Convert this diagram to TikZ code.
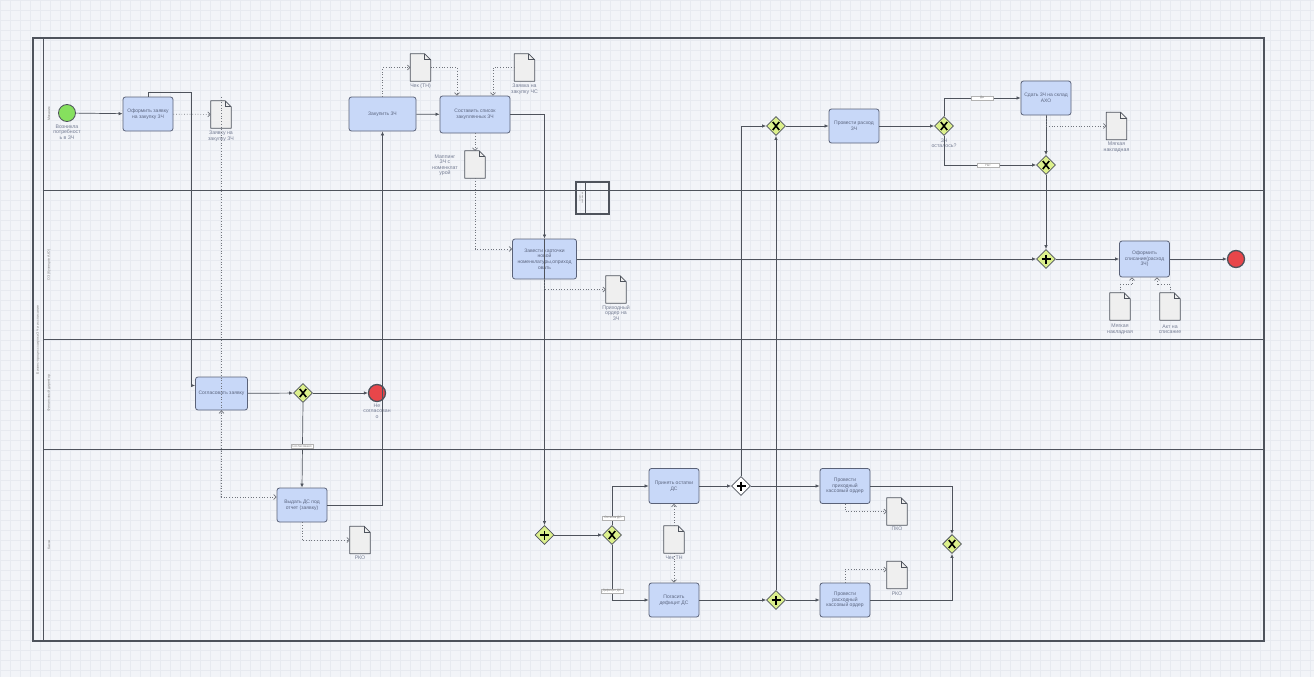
\documentclass[tikz,border=0pt]{standalone}
\usepackage{fontspec}
\setmainfont{Liberation Sans}
\usetikzlibrary{shapes.geometric,arrows.meta,calc}
\definecolor{bg}{HTML}{F2F4F8}
\definecolor{gridc}{HTML}{E7EAF0}
\definecolor{taskfill}{HTML}{C8D8F8}
\definecolor{taskline}{HTML}{5A6278}
\definecolor{gwfill}{HTML}{DCF08C}
\definecolor{linec}{HTML}{4E535C}
\definecolor{docfill}{HTML}{EFEFEF}
\definecolor{txt}{HTML}{5C6680}
\definecolor{startc}{HTML}{86E05E}
\definecolor{endc}{HTML}{E8464A}
\tikzset{
 task/.style={draw=taskline, fill=taskfill, rounded corners=2.5pt, line width=0.8pt, inner sep=1pt, align=center, text=txt, font=\fontsize{5}{5.6}\selectfont},
 gate/.style={diamond, aspect=1, draw=linec, fill=gwfill, line width=0.8pt, minimum width=19pt, minimum height=19pt, inner sep=0pt},
 gx/.style={gate, path picture={\draw[line width=1.6pt,black] ([shift={(-3.2pt,-4pt)}]path picture bounding box.center) -- ([shift={(3.2pt,4pt)}]path picture bounding box.center) ([shift={(-3.2pt,4pt)}]path picture bounding box.center) -- ([shift={(3.2pt,-4pt)}]path picture bounding box.center);}},
 gp/.style={gate, path picture={\draw[line width=1.8pt,black] ([shift={(-4.5pt,0pt)}]path picture bounding box.center) -- ([shift={(4.5pt,0pt)}]path picture bounding box.center) ([shift={(0pt,4.5pt)}]path picture bounding box.center) -- ([shift={(0pt,-4.5pt)}]path picture bounding box.center);}},
 gpw/.style={gp, fill=white},
 event/.style={circle, draw=linec, line width=0.8pt, minimum size=17pt, inner sep=0pt},
 startev/.style={event, fill=startc},
 endev/.style={event, fill=endc, line width=1.3pt},
 docbox/.style={minimum width=20pt, minimum height=27pt, inner sep=0pt},
 flow/.style={draw=linec, line width=0.7pt, -{Latex[length=4pt,width=3.5pt]}},
 assoc/.style={draw=linec!80, dotted, line width=0.7pt, -{Straight Barb[length=2.5pt,width=5pt]}},
 lbl/.style={text=txt!85, align=center, font=\fontsize{5.2}{5.5}\selectfont, inner sep=0.5pt},
 cond/.style={draw=gray!60, fill=white, font=\fontsize{3.2}{3.4}\selectfont, text=gray, inner sep=0.6pt, minimum width=22pt},
 lanetxt/.style={rotate=90, text=gray, font=\fontsize{3.5}{4}\selectfont},
 laneline/.style={draw=linec, line width=1pt},
}
\newcommand\mkdoc[2]{\node[docbox] (#1) at (#2) {};
\filldraw[draw=linec, fill=docfill, line width=0.8pt, line join=round] (#1.south west) -- (#1.north west) -- ([xshift=-6pt]#1.north east) -- ([yshift=-6pt]#1.north east) -- (#1.south east) -- cycle;
\draw[draw=linec, line width=0.8pt] ([xshift=-6pt]#1.north east) |- ([yshift=-6pt]#1.north east);}
\begin{document}
\begin{tikzpicture}[x=1pt,y=-1pt]
\useasboundingbox (0,0) rectangle (1314,677);
\fill[bg] (0,0) rectangle (1314,677);
\foreach \i in {0,10,...,1310} \draw[gridc, line width=0.3pt] (\i,0) -- (\i,677);
\foreach \j in {0,10,...,670} \draw[gridc, line width=0.3pt] (0,\j) -- (1314,\j);
% pool
\draw[laneline, line width=1.2pt] (33,38) rectangle (1264,641);
\draw[laneline] (43,38) -- (43,641);
\draw[laneline] (43,190) -- (1264,190);
\draw[laneline] (43,339) -- (1264,339);
\draw[laneline] (43,449) -- (1264,449);
\node[lanetxt] (pl) at (38,340) {Бизнес-процесс закупки ЗЧ и их списание};
\node[lanetxt] (l1) at (49,114) {Механик};
\node[lanetxt] (l2) at (49,265) {ОЗ (Кузнецов А.Ю)};
\node[lanetxt] (l3) at (49,393) {Финансовый директор};
\node[lanetxt] (l4) at (49,545) {Касса};
% mini box
\node[draw=linec, line width=1.2pt, minimum width=33pt, minimum height=32pt, inner sep=0pt] (mini) at (592.5,198) {};
\draw[linec, line width=1pt] ([xshift=10pt]mini.north west) -- ([xshift=10pt]mini.south west);
\node[rotate=90, font=\fontsize{2.2}{2.5}\selectfont, text=gray, align=center] (minit) at (581,198) {Отдел\\снабжения};
% events
\node[startev] (s) at (67,113) {};
\node[lbl] (sl) at (67,132) {Возникла\\потребност\\ь в ЗЧ};
\node[endev] (e1) at (1236,259) {};
\node[endev] (e2) at (377,393) {};
\node[lbl] (e2l) at (377,411) {Не\\согласован\\о};
% tasks
\node[task, minimum width=50pt, minimum height=34pt] (t1) at (148,114) {Оформить заявку\\на закупку ЗЧ};
\node[task, minimum width=67pt, minimum height=34pt] (t2) at (382.5,114) {Закупить ЗЧ};
\node[task, minimum width=70pt, minimum height=37pt] (t3) at (475,114.5) {Составить список\\закупленных ЗЧ};
\node[task, minimum width=64pt, minimum height=40pt] (t4) at (544.5,259) {Завести карточки\\новой\\номенклатуры,оприход\\овать};
\node[task, minimum width=50pt, minimum height=36pt] (t5) at (1144.5,259) {Оформить\\списание(расход\\ЗЧ)};
\node[task, minimum width=50pt, minimum height=34pt] (t6) at (854,126) {Провести расход\\ЗЧ};
\node[task, minimum width=50pt, minimum height=34pt] (t7) at (1046,98) {Сдать ЗЧ на склад\\АХО};
\node[task, minimum width=52pt, minimum height=33pt] (t8) at (221.5,393.5) {Согласовать заявку};
\node[task, minimum width=50pt, minimum height=34pt] (t9) at (302,505) {Выдать ДС под\\отчет (заявку)};
\node[task, minimum width=50pt, minimum height=35pt] (t10) at (674,486) {Принять остатки\\ДС};
\node[task, minimum width=50pt, minimum height=34pt] (t11) at (674,600) {Погасить\\дефицит ДС};
\node[task, minimum width=50pt, minimum height=35pt] (t12) at (845,486) {Провести\\приходный\\кассовый ордер};
\node[task, minimum width=50pt, minimum height=34pt] (t13) at (845,600) {Провести\\расходный\\кассовый ордер};
% gateways
\node[gx] (g1) at (303,393) {};
\node[gx] (g2) at (776,126) {};
\node[gx] (g3) at (944,126) {};
\node[lbl] (g3l) at (944,143) {ЗЧ\\осталось?};
\node[gx] (g4) at (1046,165) {};
\node[gp] (g5) at (1046,259) {};
\node[gp] (g6) at (544.5,535) {};
\node[gx] (g7) at (612,535) {};
\node[gpw] (g8) at (741,486) {};
\node[gp] (g9) at (776,600) {};
\node[gx] (g10) at (952,544) {};
% documents
\mkdoc{d1}{221,114.5}
\node[lbl] (d1l) at (221,136) {Заявку на\\закупку ЗЧ};
\mkdoc{d2}{420.5,67.5}
\node[lbl] (d2l) at (420.5,86) {Чек (ТН)};
\mkdoc{d3}{524.5,67.5}
\node[lbl] (d3l) at (524.5,89) {Заявка на\\закупку ЧС};
\mkdoc{d4}{475,164.5}
\node[lbl] (d4l) at (445,165) {Маппинг\\ЗЧ с\\номенклат\\урой};
\mkdoc{d5}{616,289.5}
\node[lbl] (d5l) at (616,313) {Приходный\\ордер на\\ЗЧ};
\mkdoc{d6}{1116.5,126}
\node[lbl] (d6l) at (1116.5,147) {Мягкая\\накладная};
\mkdoc{d7}{1120,306.5}
\node[lbl] (d7l) at (1120,329) {Мягкая\\накладная};
\mkdoc{d8}{1170,306.5}
\node[lbl] (d8l) at (1170,329) {Акт на\\списание};
\mkdoc{d9}{360,540}
\node[lbl] (d9l) at (360,558) {РКО};
\mkdoc{d10}{674,539.5}
\node[lbl] (d10l) at (674,558) {Чек ТН};
\mkdoc{d11}{897,511.5}
\node[lbl] (d11l) at (897,529) {ПКО};
\mkdoc{d12}{897,575}
\node[lbl] (d12l) at (897,594) {РКО};
% helper coordinates
\coordinate (a1) at (191,92);
\coordinate (a2) at (221,497);
% sequence flows
\draw[flow] (s) -- (t1);
\draw[flow] (t1.north) |- (a1) |- ([yshift=8pt]t8.west);
\draw[flow] (t2) -- (t3);
\draw[flow] (t3.east) -| (t4.north);
\draw[flow] (t4.north) -- (g6.north);
\draw[flow] (t4) -- (g5);
\draw[flow] (g5) -- (t5);
\draw[flow] (t5) -- (e1);
\draw[flow] (g6) -- (g7);
\draw[flow] (g7.north) |- (t10.west);
\draw[flow] (g7.south) |- (t11.west);
\draw[flow] (t10) -- (g8);
\draw[flow] (g8) -- (t12);
\draw[flow] (g8.north) |- (g2.west);
\draw[flow] (t11) -- (g9);
\draw[flow] (g9.north) -- (g2.south);
\draw[flow] (g9) -- (t13);
\draw[flow] (t12.east) -| (g10.north);
\draw[flow] (t13.east) -| (g10.south);
\draw[flow] (g2) -- (t6);
\draw[flow] (t6) -- (g3);
\draw[flow] (g3.north) |- (t7.west);
\draw[flow] (g3.south) |- (g4.west);
\draw[flow] (t7.south) -- (g4.north);
\draw[flow] (g4.south) -- (g5.north);
\draw[flow] (t8) -- (g1);
\draw[flow] (g1) -- (e2);
\draw[flow] (g1.south) -- (t9.north);
\draw[flow] (t9.east) -| (t2.south);
% condition labels
\node[cond] (c1) at (982,98) {Да};
\node[cond] (c2) at (988,165) {Нет};
\node[cond] (c3) at (302,446) {Согласовано};
\node[cond] (c4) at (613,518) {Остаток ДС};
\node[cond] (c5) at (612,591) {Дефицит ДС};
% associations
\draw[assoc] (t1) -- (d1);
\draw[assoc,-] ([yshift=4pt]d1.north) -- (a2);
\draw[assoc] (a2) -- (t9.west |- a2);
\draw[assoc] (a2) -- (t8.south);
\draw[assoc] (t2.north) |- (d2.west);
\draw[assoc] (d2.east) -| ([xshift=-18pt]t3.north);
\draw[assoc] (d3.west) -| ([xshift=18pt]t3.north);
\draw[assoc] (t3.south) -- (d4.north);
\draw[assoc] (d4.south) |- ([yshift=10pt]t4.west);
\draw[assoc] (t4.south) |- (d5.west);
\draw[assoc] (t7.south) |- (d6.west);
\draw[assoc] (d7.north) -- ++(0,-8) -| ([xshift=-12.5pt]t5.south);
\draw[assoc] (d8.north) -- ++(0,-8) -| ([xshift=12.5pt]t5.south);
\draw[assoc] (t9.south) |- (d9.west);
\draw[assoc] (d10.north) -- (t10.south);
\draw[assoc] (d10.south) -- (t11.north);
\draw[assoc] (t12.south) |- (d11.west);
\draw[assoc] (t13.north) |- ([yshift=5.5pt]d12.west);
\end{tikzpicture}
\end{document}
